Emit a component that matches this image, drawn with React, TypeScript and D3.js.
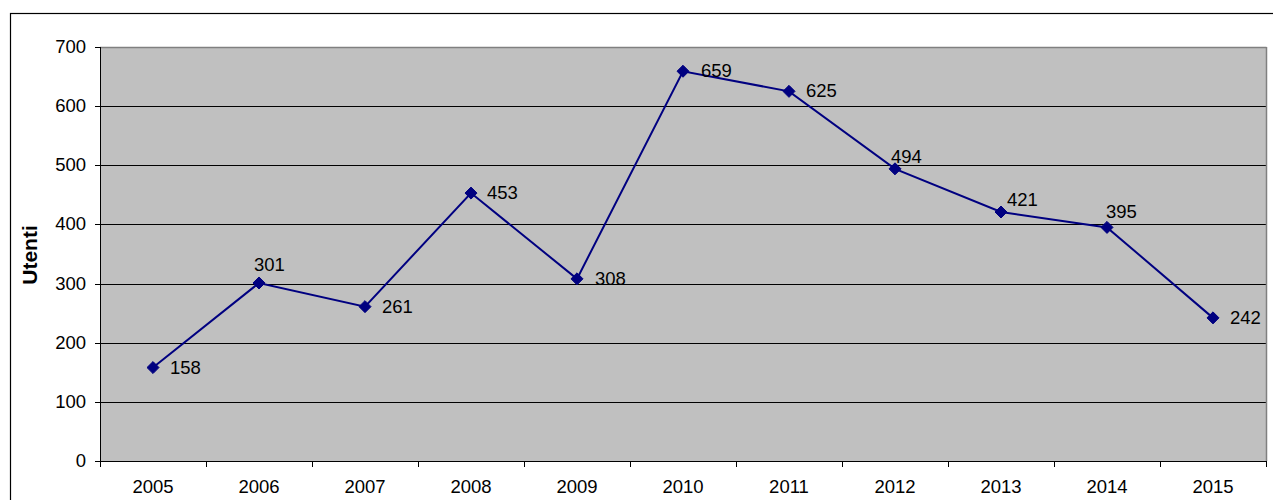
import React from "react";
import * as d3 from "d3";

// Yearly user counts
const years = ["2005", "2006", "2007", "2008", "2009", "2010", "2011", "2012", "2013", "2014", "2015"];
const utenti = [158, 301, 261, 453, 308, 659, 625, 494, 421, 395, 242];
const yTicks = [0, 100, 200, 300, 400, 500, 600, 700];

// Data-label placement relative to each marker: [dx to text start, dy to baseline]
const labelOffsets: [number, number][] = [
  [17, 6], [-5, -12], [17, 6], [16, 6], [18, 6], [18, 6],
  [17, 6], [-4, -6], [6, -6], [-1, -9], [17, 6],
];

const W = 1273;
const H = 500;
const plot = { left: 100, right: 1266, top: 47, bottom: 461 };
const FONT = "Arial, 'Liberation Sans', Helvetica, sans-serif";

export default function App() {
  const x = d3.scaleBand<string>().domain(years).range([plot.left, plot.right]).padding(0);
  const y = d3.scaleLinear().domain([0, 700]).range([plot.bottom, plot.top]);
  const cx = (yr: string) => (x(yr) as number) + x.bandwidth() / 2;

  const line = d3
    .line<number>()
    .x((_, i) => cx(years[i]))
    .y((v) => y(v));

  const diamond = d3.symbol().type(d3.symbolDiamond2).size(92)() as string;
  const boundaries = years.map((yr) => x(yr) as number).concat([plot.right]);

  return (
    <svg
      width={W}
      height={H}
      style={{ position: "absolute", left: 0, top: 0, background: "#fff" }}
      fontFamily={FONT}
    >
      {/* chart frame */}
      <rect x={10.5} y={13.5} width={1300} height={600} fill="#fff" stroke="#000" strokeWidth={1.2} />

      {/* plot area */}
      <rect
        x={plot.left}
        y={plot.top}
        width={plot.right - plot.left}
        height={plot.bottom - plot.top}
        fill="#c0c0c0"
      />
      {yTicks
        .filter((t) => t > 0 && t < 700)
        .map((t) => (
          <line
            key={"g" + t}
            x1={plot.left}
            x2={plot.right}
            y1={Math.round(y(t)) + 0.5}
            y2={Math.round(y(t)) + 0.5}
            stroke="#000"
            strokeWidth={1}
          />
        ))}
      <line x1={plot.left} x2={plot.right + 0.5} y1={plot.top + 0.5} y2={plot.top + 0.5} stroke="#808080" strokeWidth={1.5} />
      <line x1={plot.right + 0.5} x2={plot.right + 0.5} y1={plot.top} y2={plot.bottom} stroke="#808080" strokeWidth={1.5} />

      {/* y axis */}
      <line x1={plot.left + 0.5} x2={plot.left + 0.5} y1={plot.top} y2={plot.bottom + 5} stroke="#000" />
      {yTicks.map((t) => (
        <g key={"y" + t}>
          <line x1={plot.left - 5} x2={plot.left} y1={Math.round(y(t)) + 0.5} y2={Math.round(y(t)) + 0.5} stroke="#000" />
          <text x={86} y={y(t) + 6} textAnchor="end" fontSize={18.5} fill="#000">
            {t}
          </text>
        </g>
      ))}
      <text
        transform={`translate(36.5,255) rotate(-90)`}
        textAnchor="middle"
        fontSize={21}
        fontWeight="bold"
        fill="#000"
      >
        Utenti
      </text>

      {/* x axis */}
      <line x1={plot.left} x2={plot.right + 1} y1={plot.bottom + 0.5} y2={plot.bottom + 0.5} stroke="#000" />
      {boundaries.map((b, i) => (
        <line key={"xt" + i} x1={Math.round(b) + 0.5} x2={Math.round(b) + 0.5} y1={plot.bottom} y2={plot.bottom + 6} stroke="#000" />
      ))}
      {years.map((yr) => (
        <text key={"xl" + yr} x={cx(yr)} y={493} textAnchor="middle" fontSize={18.5} fill="#000">
          {yr}
        </text>
      ))}

      {/* series */}
      <path d={line(utenti) as string} fill="none" stroke="#000080" strokeWidth={2} />
      {utenti.map((v, i) => (
        <path key={"m" + i} d={diamond} transform={`translate(${cx(years[i])},${y(v)})`} fill="#000080" stroke="#000080" strokeWidth={1} />
      ))}
      {utenti.map((v, i) => (
        <text
          key={"l" + i}
          x={cx(years[i]) + labelOffsets[i][0]}
          y={y(v) + labelOffsets[i][1]}
          fontSize={18.5}
          fill="#000"
        >
          {v}
        </text>
      ))}
    </svg>
  );
}
